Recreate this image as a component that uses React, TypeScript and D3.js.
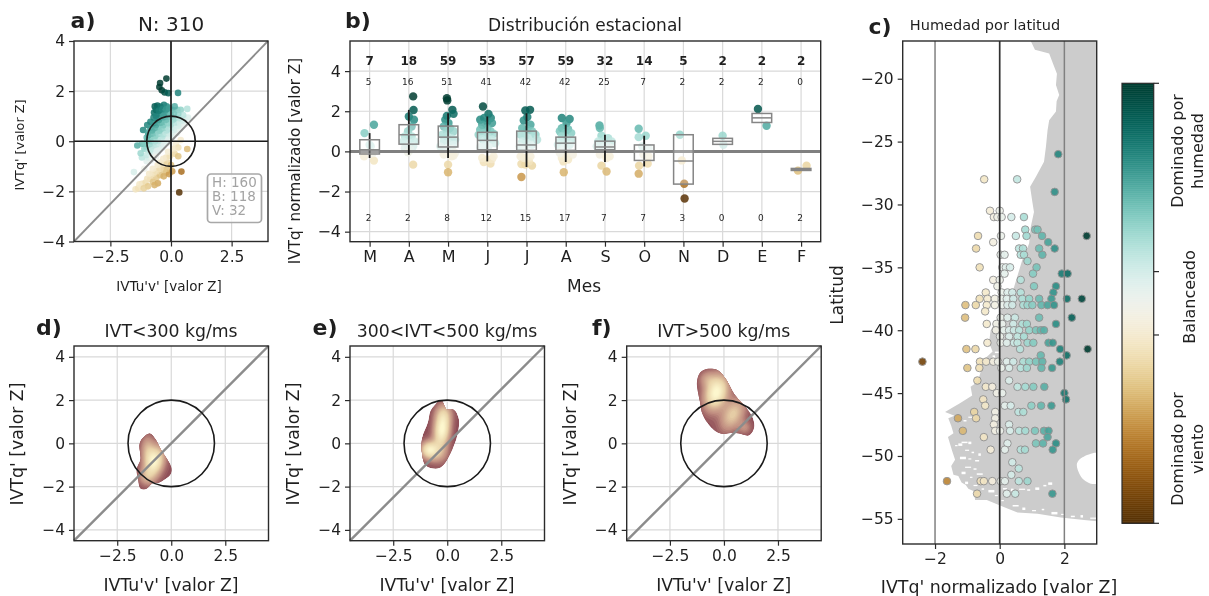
import React, { useEffect, useRef } from "react";
import * as d3 from "d3";

const WIDTH = 1209;
const HEIGHT = 596;

// a) IVTu'v' , IVTq'
const scatterA: number[][] = [
  [-1.53, -1.23], [-1.1, -1.1], [-1, -0.8], [-0.85, -0.78], [-0.95, -0.65], [-1.2, -0.65], [-1, -0.55], [-0.85, -0.52], [-0.7, -0.5], [-0.55, -0.45], [-0.78, -0.66], [-0.62, -0.62],
  [-1.25, -0.48], [-1.1, -0.3], [-0.95, -0.32], [-0.8, -0.3], [-0.65, -0.28], [-0.5, -0.3], [-0.35, -0.25], [-1.02, -0.22], [-0.72, -0.2], [-0.42, -0.18], [-0.88, -0.4], [-0.58, -0.38],
  [-1.39, -0.17], [-1.2, -0.1], [-1.05, -0.1], [-0.9, -0.12], [-0.75, -0.08], [-0.6, -0.12], [-0.45, -0.08], [-0.3, -0.1], [-0.15, -0.05], [-0.82, 0], [-0.52, 0.01], [-0.22, 0.02], [-0.98, 0.02], [-0.66, 0],
  [-1, 0.15], [-0.88, 0.1], [-0.72, 0.12], [-0.58, 0.08], [-0.42, 0.1], [-0.28, 0.12], [-0.12, 0.08], [0.05, 0.15], [-0.94, 0.24], [-0.65, 0.21], [-0.35, 0.2], [-0.05, 0.22],
  [-1.15, 0.45], [-0.95, 0.35], [-0.8, 0.3], [-0.65, 0.33], [-0.5, 0.3], [-0.35, 0.28], [-0.2, 0.32], [-0.05, 0.3], [0.1, 0.35], [0.25, 0.33], [-0.78, 0.43], [-0.48, 0.42], [-0.18, 0.43], [0.12, 0.45],
  [-0.98, 0.65], [-0.85, 0.55], [-0.7, 0.52], [-0.55, 0.56], [-0.4, 0.5], [-0.25, 0.54], [-0.1, 0.5], [0.05, 0.55], [0.22, 0.52], [0.38, 0.5], [-0.62, 0.65], [-0.32, 0.64], [-0.02, 0.66], [0.3, 0.62],
  [-0.85, 0.78], [-0.72, 0.72], [-0.58, 0.75], [-0.42, 0.74], [-0.28, 0.78], [-0.12, 0.72], [0.02, 0.8], [0.2, 0.75], [0.38, 0.72], [0.55, 0.7], [-0.5, 0.85], [-0.2, 0.86], [0.1, 0.87], [0.45, 0.82],
  [-0.72, 0.95], [-0.6, 0.92], [-0.45, 0.95], [-0.3, 0.96], [-0.15, 0.98], [0, 0.98], [0.18, 0.95], [0.35, 0.92], [0.55, 0.9], [0.7, 0.95],
  [-0.7, 1.15], [-0.55, 1.1], [-0.4, 1.12], [-0.25, 1.13], [-0.1, 1.15], [0.05, 1.25], [0.26, 1.25], [0.4, 1.25], [0.67, 1.29], [0.5, 1.05], [0.3, 1.1], [0.12, 1.1], [-0.62, 1.02], [-0.32, 1.05], [-0.02, 1.06],
  [-0.67, 1.39], [-0.56, 1.42], [-0.43, 1.38], [-0.29, 1.45], [-0.18, 1.39], [0.15, 1.39], [-0.62, 1.25], [-0.5, 1.22], [-0.35, 1.28], [-0.2, 1.27], [-0.08, 1.33],
  [-0.19, 2.5], [-0.45, 2.32], [-0.48, 2.16], [-0.38, 2.03], [-0.26, 1.95], [-0.11, 1.92], [0.29, 1.93],
  [-1.46, -1.92], [-1.35, -1.88], [-1.2, -1.7], [-1.05, -1.65], [-0.95, -1.8], [-0.85, -1.5], [-0.75, -1.62], [-0.6, -1.45], [-0.54, -1.68], [-0.45, -1.35], [-1.3, -1.72], [-1.12, -1.88], [-0.98, -1.5], [-0.68, -1.75],
  [-0.3, -1.4], [-0.2, -1.25], [-0.08, -1.31], [-0.15, -1.1], [-0.3, -1.15], [-0.45, -1.1], [-0.6, -1.2], [-0.75, -1.3], [-0.9, -1.3], [-0.75, -1.1], [-0.55, -0.95],
  [-0.3, -0.9], [-0.45, -0.85], [-0.15, -0.85], [-0.2, -0.65], [-0.05, -0.6], [0, -0.95], [0.05, -1.2], [-0.32, -0.7], [-0.12, -0.42],
  [0.43, -1.21], [0.34, -2.04], [0.67, -0.31], [0.4, 0.05], [0.2, -0.1], [0.3, -0.25], [0.15, -0.5], [0.3, -0.6], [0.1, -0.3],
];
const countsLegend = ["H: 160", "B: 118", "V: 32"];

// b) seasonal panel
const months = ["M", "A", "M", "J", "J", "A", "S", "O", "N", "D", "E", "F"];
const totals = [7, 18, 59, 53, 57, 59, 32, 14, 5, 2, 2, 2];
const humCounts = [5, 16, 51, 41, 42, 42, 25, 7, 2, 2, 2, 0];
const windCounts = [2, 2, 8, 12, 15, 17, 7, 7, 3, 0, 0, 2];
const boxQ1 = [-0.13, 0.36, 0.22, 0.08, 0.05, 0.05, 0.08, -0.45, -1.63, 0.35, 1.44, -0.95];
const boxMed = [0.08, 0.83, 0.71, 0.55, 0.32, 0.41, 0.22, 0, -0.48, 0.5, 1.67, -0.9];
const boxQ3 = [0.58, 1.33, 1.26, 0.95, 1.01, 0.71, 0.51, 0.32, 0.83, 0.65, 1.89, -0.85];
const whiskLow = [-0.33, -0.17, -0.33, -0.5, -0.78, -0.53, -0.53, -0.75, null, null, null, null];
const whiskHigh = [0.91, 2.07, 1.9, 1.74, 1.9, 1.33, 0.83, 0.78, null, null, null, null];
// month index + jitter, normalised IVTq'
const seasonalPts: number[][] = [
  [0.03, 0.25], [0, 0.33], [-0.14, -0.25], [-0.13, 0.91], [0.11, 1.33], [0.11, -0.46], [0.08, -0.08],
  [1.11, 2.74], [1.12, 2.06], [1, 1.74], [1.13, 1.58], [1.07, 1.24], [0.98, 1], [0.9, 0.75], [1.07, 0.75], [0.86, 0.5], [1.03, 0.42], [1.15, 0.5], [0.98, 0.25], [0.9, 0.16], [1.11, 0.25], [1.04, 0.08], [1.11, -0.66], [0.98, -0.05],
  [1.97, 2.65], [1.98, 2.54], [2.11, 2.07], [1.97, 1.77], [2.14, 1.87], [1.93, 1.58], [2.01, 1.41], [1.89, 1.24], [2.05, 1.16], [1.97, 1], [2.14, 1], [1.85, 0.83], [1.96, 0.75], [2.09, 0.66], [2.18, 0.58], [1.89, 0.5], [2.01, 0.41], [2.14, 0.33], [1.8, 0.25], [1.97, 0.16], [2.09, 0.11], [2.18, -0.08], [2.09, -0.25], [2, -0.66], [2, -1.04], [2.14, -0.21], [1.89, -0.16],
  [2.89, 2.24], [3.03, 1.87], [3.09, 1.66], [2.92, 1.66], [2.82, 1.58], [3, 1.49], [2.87, 1.33], [3.12, 1.41], [3, 1.16], [2.82, 1.08], [3.08, 1], [2.92, 0.91], [3.16, 0.88], [2.78, 0.83], [3, 0.75], [2.87, 0.61], [3.12, 0.58], [3.2, 0.41], [2.92, 0.33], [3.03, 0.25], [2.82, 0.21], [2.91, -0.53], [3.08, -0.61], [3.12, -0.38], [3, -0.41], [2.87, -0.33], [3.16, -0.25],
  [4.09, 2.07], [3.97, 2.04], [4.02, 1.71], [3.93, 1.54], [4.1, 1.33], [3.89, 1.16], [4.02, 1.08], [4.14, 1], [3.85, 0.83], [3.97, 0.75], [4.1, 0.66], [4.23, 0.83], [3.89, 0.5], [4.02, 0.41], [4.14, 0.33], [4.27, 0.58], [3.83, 0.25], [3.97, 0.16], [3.87, -0.63], [3.97, -0.66], [4.14, -0.71], [4.06, -0.5], [3.94, -0.33], [4.1, -0.25], [3.85, -0.25], [3.87, -1.28],
  [4.9, 1.66], [5.1, 1.61], [5.02, 1.41], [4.9, 1.16], [5.06, 1.11], [4.85, 1], [4.98, 0.91], [5.14, 0.91], [4.9, 0.75], [5.02, 0.66], [5.14, 0.58], [4.85, 0.5], [4.98, 0.41], [5.1, 0.33], [4.8, 0.33], [4.94, 0.16], [4.95, -1.04], [4.94, -0.5], [5.06, -0.41], [4.9, -0.33], [5.02, -0.25], [5.18, -0.16], [4.85, -0.08],
  [5.86, 1.29], [5.87, 1.16], [5.91, 0.78], [6.08, 0.66], [6, 0.58], [5.83, 0.5], [6.17, 0.5], [5.91, 0.33], [6.08, 0.25], [5.79, 0.25], [6.17, 0.16], [5.91, -0.71], [6.04, -1], [5.87, -0.16], [6.04, -0.33], [6.12, -0.25],
  [6.86, 1.13], [7.04, 0.78], [6.86, 0.71], [6.95, 0.25], [7.11, 0.16], [7.11, -0.25], [7.09, -0.61], [6.87, -0.71], [6.86, -1.11], [6.98, -0.16],
  [7.91, 0.83], [7.96, -0.45], [8.02, -1.61], [8.03, -2.35],
  [9, 0.78], [9.02, 0.33],
  [9.9, 2.11], [10.12, 1.28],
  [11.14, -0.71], [10.92, -0.96],
];

// c) latitude rows, each with the values on it
const latRows: [number, number[]][] = [
  [-26, [1.81]], [-28, [-0.48, 0.54]], [-29, [1.7]], [-30.5, [-0.3, 0]], [-31, [-0.18, -0.07, 0.06, 0.36, 0.75]],
  [-32, [0.79, 1.1, 1.17]], [-32.5, [-0.67, 0.04, 0.5, 0.83, 1.31, 2.69]], [-33, [-0.2, 1.5]], [-33.5, [-0.73, 0.6, 0.72, 1.22, 1.7]],
  [-34, [0.03, 0.15, 0.65, 0.75, 1.32]], [-34.5, [0.86]], [-35, [-0.62, 0.08, 0.19, 0.32, 1.14]], [-35.5, [0.15, 1.03, 1.92, 2.1]],
  [-36, [-0.2, 0, 0.65]], [-36.5, [-0.07, 1.06, 1.74]], [-37, [-0.43, 0.06, 0.24, 0.39, 0.65, 1.66]],
  [-37.5, [-0.62, -0.38, -0.15, 0.06, 0.22, 0.42, 0.7, 0.91, 1.22, 1.6, 2.08, 2.54]],
  [-38, [-1.06, -0.74, -0.4, -0.15, 0.08, 0.24, 0.39, 0.73, 0.86, 1.01, 1.29, 1.48, 1.68]],
  [-38.5, [-0.45]], [-39, [-1.07, 0.03, 0.24, 0.47, 1.22, 2.23]], [-39.5, [-0.4, -0.1, 0.08, 0.42, 0.7, 0.84, 1.74]],
  [-40, [-0.12, 0.13, 0.29, 0.44, 0.6, 0.91, 1.12, 1.27, 1.37]], [-40.5, [0.01, 0.29, 0.55, 0.75]],
  [-41, [-0.38, 0.03, 0.22, 0.44, 0.55, 0.86, 1.04, 1.51, 1.64]], [-41.5, [-1.03, -0.75, 0.63, 1.87, 2.72]], [-42, [1.27, 2.07]],
  [-42.5, [-2.39, -0.61, -0.42, -0.2, -0.05, 0.22, 0.42, 0.73, 0.91, 1.12, 1.32, 1.86]],
  [-43, [-1, -0.63, 0.05, 0.29, 0.65, 0.84, 1.29, 1.62]], [-44, [-0.69, 0.29]], [-44.5, [-0.43, -0.23, 0.55, 0.79, 1.04, 1.38]],
  [-45, [-0.09, 0.08, 2]], [-45.5, [-0.51, 2.05]], [-46, [-0.45, 0.16, 0.34, 0.98, 1.28, 1.6]], [-46.5, [-0.79, -0.14, 0.58, 0.73]],
  [-47, [-1.29, -0.73, -0.14]], [-47.5, [-0.18, 0.29]], [-48, [-1.14, -0.14, 0.01, 0.32, 0.6, 0.79, 1.09, 1.37, 1.51]],
  [-48.5, [-0.49, 1.48]], [-49, [0.24, 1.12, 1.34, 1.74]], [-49.5, [-0.28, 0.16, 0.65, 0.78, 1.64]],
  [-50.5, [0.39]], [-51, [0.59]], [-51.5, [0.36]], [-52, [-1.63, -0.59, -0.49, -0.23, 0.03, 0.16, 0.59, 0.86]], [-53, [-0.7, 0.22, 0.48, 1.63]],
];
// land outline on the map as value, latitude
const landOutline: number[][] = [
  [0.96, -17], [1.09, -17.7], [1.53, -18], [1.65, -18.8], [1.77, -19.6], [1.74, -20.5], [1.84, -21.3], [1.76, -21.8], [1.74, -22.6], [1.53, -23.3],
  [1.48, -24.1], [1.43, -25.4], [1.37, -26.6], [1.12, -27.8], [0.94, -28.6], [1.01, -29.8], [1.06, -30.6], [0.96, -31.8], [0.91, -33.1], [0.7, -34.4],
  [0.44, -36.6], [0.25, -37.6], [0.05, -38.3], [-0.1, -39.2], [-0.28, -40], [-0.33, -41], [-0.22, -41.7], [-0.48, -42.3], [-0.6, -43.4], [-0.68, -44.1],
  [-0.9, -44.5], [-0.85, -45.2], [-1.23, -45.8], [-1.43, -46.1], [-1.69, -46.5], [-1.4, -46.8], [-1.59, -47], [-1.5, -47.6], [-1.43, -48.2], [-1.6, -48.5],
  [-1.54, -49], [-1.47, -49.6], [-1.38, -50.3], [-1.5, -50.8], [-1.43, -51.5], [-1.28, -51.6], [-1.18, -52.1], [-1.05, -52.3], [-0.97, -52.6], [-0.8, -52.8],
  [-0.76, -53.5], [-0.4, -53.5], [0.03, -53.96], [0.55, -54.5], [1.17, -54.6], [1.89, -54.9], [2.61, -55.1], [3.03, -55.2], [3.03, -17],
];
const atlanticBay: number[][] = [[3.08, -49.8], [2.56, -50.1], [2.39, -50.6], [2.46, -51.4], [2.6, -51.9], [2.82, -52.2], [3.08, -52.1]];
// white flecks: fjords and the strait in the far south
const mapFlecks: number[][] = [
  [-0.15, -41.7], [-0.22, -42], [-0.97, -46.87], [-1.12, -47.14], [-1.28, -49], [-1.38, -49.13], [-1.18, -48.86], [-0.97, -48.86], [-1.07, -49.5], [-0.87, -49.66],
  [-1.23, -50.06], [-0.97, -50.19], [-0.76, -50.32], [-0.66, -49.79], [-1.07, -50.85], [-0.81, -50.98], [-1.18, -51.25], [-0.92, -51.65], [-0.71, -51.38], [-1.07, -52.04],
  [-0.81, -52.3], [-0.56, -52.57], [-0.35, -52.7], [-0.15, -53.1], [0.1, -52.55], [0.35, -52.6], [0.6, -52.6], [0.85, -52.65], [1.1, -52.5],
  [0.05, -53.5], [0.4, -53.9], [0.7, -54.1], [1, -54.3], [1.3, -54.2], [1.6, -54.45], [1.9, -54.6], [2.2, -54.75], [2.5, -54.7], [2.8, -54.9], [1.35, -52.3], [1.5, -52.1],
];

// d, e, f) density panels: outline, then bumps [x, y, sx, sy, angle, weight]
const densityPanels = [
  {
    title: "IVT<300 kg/ms", tag: "d)", left: 74,
    outline: [[-0.99, 0.46], [-0.73, 0.19], [-0.49, -0.28], [-0.19, -0.74], [0.02, -1.13], [-0.03, -1.44], [-0.57, -1.82], [-0.88, -1.85], [-1.14, -2.1], [-1.42, -2.1], [-1.53, -1.67], [-1.6, -1.2], [-1.42, -0.74], [-1.47, -0.05], [-1.34, 0.22]],
    bumps: [[-0.8, -0.82, 0.3, 0.48, 0.25, 1], [-1.12, -0.2, 0.22, 0.42, 0, 0.35], [-1.15, -1.55, 0.27, 0.27, 0, 0.3]],
  },
  {
    title: "300<IVT<500 kg/ms", tag: "e)", left: 350,
    outline: [[-0.28, 2], [-0.03, 1.57], [0.31, 1.54], [0.54, 1.11], [0.46, 0.34], [0.23, -0.28], [-0.23, -1.05], [-0.54, -1.17], [-1, -1.02], [-1.16, -0.51], [-1.16, 0.26], [-0.9, 0.96], [-0.77, 1.5], [-0.54, 1.8]],
    bumps: [[-0.26, 0.65, 0.25, 0.55, 0.1, 1], [-0.86, -0.28, 0.27, 0.27, 0, 0.8], [-0.45, -0.45, 0.33, 0.33, 0, 0.3], [-0.2, 1.4, 0.28, 0.33, 0, 0.3]],
  },
  {
    title: "IVT>500 kg/ms", tag: "f)", left: 626.7,
    outline: [[-0.83, 3.43], [-0.29, 3.38], [0.09, 2.96], [0.48, 2.27], [1.02, 1.65], [1.33, 1.19], [1.4, 0.73], [1.17, 0.37], [0.71, 0.45], [0.4, 0.49], [-0.14, 0.45], [-0.6, 0.73], [-0.99, 1.34], [-1.1, 1.88], [-1.25, 2.81], [-1.1, 3.27]],
    bumps: [[-0.37, 2.36, 0.35, 0.55, 0.3, 1], [0.4, 1.35, 0.33, 0.55, 0.5, 0.55], [-0.8, 3, 0.27, 0.27, 0, 0.25], [0.95, 0.75, 0.22, 0.22, 0, 0.22]],
  },
];

const GRID = "#d9d9d9";
const SPINE = "#2b2b2b";
const TXT = "#1f1f1f";
const FONT = "'DejaVu Sans', sans-serif";

const brbgA = d3.scaleSequential(d3.interpolateBrBG).domain([-2.4, 2.4]).clamp(true);
const brbgC = d3.scaleSequential(d3.interpolateBrBG).domain([-2.7, 2.7]).clamp(true);
const densityColor = d3.scaleLinear<string>().domain([0, 0.2, 0.55, 1]).range(["#8f4f58", "#c08d80", "#e9d2a8", "#fffbd2"]);

type Sel = d3.Selection<any, any, any, any>;

function frame(g: Sel, x: any, y: any, xTicks: number[], yTicks: number[], xFmt: (d: any) => string, yFmt: (d: any) => string, size: number) {
  const [x0, x1] = x.range();
  const [y0, y1] = y.range();
  const grid = g.append("g").attr("stroke", GRID).attr("stroke-width", 1.2);
  xTicks.forEach((t) => grid.append("line").attr("x1", x(t)).attr("x2", x(t)).attr("y1", y0).attr("y2", y1));
  yTicks.forEach((t) => grid.append("line").attr("x1", x0).attr("x2", x1).attr("y1", y(t)).attr("y2", y(t)));
  return () => {
    const ax = g.append("g").attr("transform", `translate(0,${y0})`).call(d3.axisBottom(x).tickValues(xTicks).tickFormat(xFmt).tickSize(5).tickPadding(4));
    const ay = g.append("g").attr("transform", `translate(${x0},0)`).call(d3.axisLeft(y).tickValues(yTicks).tickFormat(yFmt).tickSize(5).tickPadding(4));
    [ax, ay].forEach((a) => {
      a.select(".domain").remove();
      a.selectAll("line").attr("stroke", SPINE).attr("stroke-width", 1.2);
      a.selectAll("text").attr("font-family", FONT).attr("font-size", size).attr("fill", TXT);
    });
    g.append("rect").attr("x", x0).attr("y", y1).attr("width", x1 - x0).attr("height", y0 - y1).attr("fill", "none").attr("stroke", SPINE).attr("stroke-width", 1.4);
  };
}

function label(svg: Sel, txt: string, x: number, y: number, size: number, opts: { rot?: boolean; bold?: boolean; fill?: string; anchor?: string } = {}) {
  svg.append("text").text(txt).attr("font-family", FONT).attr("font-size", size)
    .attr("fill", opts.fill ?? TXT).attr("text-anchor", opts.anchor ?? "middle")
    .attr("font-weight", opts.bold ? "bold" : "normal")
    .attr("transform", opts.rot ? `translate(${x},${y}) rotate(-90)` : `translate(${x},${y})`);
}

export default function App() {
  const ref = useRef<SVGSVGElement>(null);

  useEffect(() => {
    const svg = d3.select(ref.current);
    svg.selectAll("*").remove();
    const f1 = d3.format(".1f");

    // a)
    const xa = d3.scaleLinear().domain([-4, 4]).range([74, 268]);
    const ya = d3.scaleLinear().domain([-4, 4]).range([241.5, 41]);
    const ga = svg.append("g");
    const closeA = frame(ga, xa, ya, [-2.5, 0, 2.5], [-4, -2, 0, 2, 4], (d) => (d === 0 ? "0.0" : f1(d)), d3.format("d"), 15.5);
    ga.selectAll(".pt").data(scatterA).enter().append("circle")
      .attr("cx", (d) => xa(d[0])).attr("cy", (d) => ya(d[1])).attr("r", 3.3)
      .attr("fill", (d) => brbgA(d[1] - d[0])).attr("opacity", 0.85);
    ga.append("line").attr("x1", xa(-4)).attr("y1", ya(-4)).attr("x2", xa(4)).attr("y2", ya(4)).attr("stroke", "#8c8c8c").attr("stroke-width", 1.8);
    ga.append("line").attr("x1", xa(0)).attr("x2", xa(0)).attr("y1", ya(-4)).attr("y2", ya(4)).attr("stroke", "#1a1a1a").attr("stroke-width", 1.7);
    ga.append("line").attr("x1", xa(-4)).attr("x2", xa(4)).attr("y1", ya(0)).attr("y2", ya(0)).attr("stroke", "#1a1a1a").attr("stroke-width", 1.7);
    ga.append("ellipse").attr("cx", xa(0)).attr("cy", ya(0)).attr("rx", xa(1) - xa(0)).attr("ry", ya(0) - ya(1)).attr("fill", "none").attr("stroke", "#1a1a1a").attr("stroke-width", 1.7);
    closeA();
    ga.append("rect").attr("x", 207.5).attr("y", 174).attr("width", 54).attr("height", 48.5).attr("rx", 3.5).attr("fill", "white").attr("fill-opacity", 0.8).attr("stroke", "#a8a8a8").attr("stroke-width", 1.7);
    countsLegend.forEach((t, i) => label(ga, t, 212, 187 + i * 14.2, 13.5, { anchor: "start", fill: "#a3a3a3" }));
    label(svg, "a)", 83, 28, 22, { bold: true });
    label(svg, "N: 310", 171, 31, 20);
    label(svg, "IVTq' [valor Z]", 24, 145, 12.8, { rot: true });
    label(svg, "IVTu'v' [valor Z]", 169, 291, 13.5);

    // b)
    const xb = d3.scaleLinear().domain([-0.5, 11.5]).range([350, 820.7]);
    const yb = d3.scaleLinear().domain([-4.5, 5.5]).range([241.7, 41]);
    const gb = svg.append("g");
    const monthIdx = months.map((_, i) => i);
    const closeB = frame(gb, xb, yb, monthIdx, [-4, -2, 0, 2, 4], (i) => months[i], d3.format("d"), 16);
    gb.selectAll(".pt").data(seasonalPts).enter().append("circle")
      .attr("cx", (d) => xb(d[0])).attr("cy", (d) => yb(d[1])).attr("r", 4.2)
      .attr("fill", (d) => brbgA(d[1])).attr("opacity", 0.85);
    gb.append("line").attr("x1", xb(-0.5)).attr("x2", xb(11.5)).attr("y1", yb(0)).attr("y2", yb(0)).attr("stroke", "#808080").attr("stroke-width", 3);
    monthIdx.forEach((i) => {
      if (whiskLow[i] !== null) {
        gb.append("line").attr("x1", xb(i)).attr("x2", xb(i)).attr("y1", yb(whiskLow[i] as number)).attr("y2", yb(whiskHigh[i] as number)).attr("stroke", "#1a1a1a").attr("stroke-width", 1.8);
      }
      const bw = xb(0.25) - xb(0);
      gb.append("rect").attr("x", xb(i) - bw).attr("width", 2 * bw).attr("y", yb(boxQ3[i])).attr("height", yb(boxQ1[i]) - yb(boxQ3[i]))
        .attr("fill", "white").attr("fill-opacity", 0.25).attr("stroke", "#858585").attr("stroke-width", 1.5);
      gb.append("line").attr("x1", xb(i) - bw).attr("x2", xb(i) + bw).attr("y1", yb(boxMed[i])).attr("y2", yb(boxMed[i])).attr("stroke", "#858585").attr("stroke-width", 1.5);
      label(gb, String(totals[i]), xb(i), 65, 12, { bold: true });
      label(gb, String(humCounts[i]), xb(i) - 1, 85, 9);
      label(gb, String(windCounts[i]), xb(i) - 1, 221, 9);
    });
    closeB();
    label(svg, "b)", 358, 28, 22, { bold: true });
    label(svg, "Distribución estacional", 585, 31, 17);
    label(svg, "IVTq' normalizado [valor Z]", 300, 161, 15.2, { rot: true });
    label(svg, "Mes", 584, 292, 17);

    // c)
    const xc = d3.scaleLinear().domain([-3, 3]).range([902.7, 1096.7]);
    const yc = d3.scaleLinear().domain([-57, -17]).range([544, 41]);
    const gc = svg.append("g");
    svg.append("defs").append("clipPath").attr("id", "clip-c").append("rect").attr("x", 902.7).attr("y", 41).attr("width", 194).attr("height", 503);
    const mapG = gc.append("g").attr("clip-path", "url(#clip-c)");
    const mapLine = d3.line<number[]>().x((d) => xc(d[0])).y((d) => yc(d[1]));
    mapG.append("path").attr("d", mapLine(landOutline) + "Z").attr("fill", "#cccccc");
    mapG.append("path").attr("d", d3.line<number[]>().x((d) => xc(d[0])).y((d) => yc(d[1])).curve(d3.curveCatmullRomClosed)(atlanticBay) as string).attr("fill", "white");
    mapG.selectAll(".fleck").data(mapFlecks).enter().append("rect")
      .attr("x", (d) => xc(d[0])).attr("y", (d) => yc(d[1])).attr("width", (_, i) => [4, 2.5, 6, 3][i % 4]).attr("height", (_, i) => [1.5, 2.5, 1.2][i % 3]).attr("fill", "white");
    const rowPts = latRows.flatMap(([lat, vals]) => vals.map((v) => [v, lat]));
    mapG.selectAll(".pt").data(rowPts).enter().append("circle")
      .attr("cx", (d) => xc(d[0])).attr("cy", (d) => yc(d[1])).attr("r", 3.8)
      .attr("fill", (d) => brbgC(d[0])).attr("stroke", "#8f8f8f").attr("stroke-width", 1).attr("opacity", 0.9);
    [-2, 2].forEach((v) => gc.append("line").attr("x1", xc(v)).attr("x2", xc(v)).attr("y1", 41).attr("y2", 544).attr("stroke", "#808080").attr("stroke-width", 1.5));
    gc.append("line").attr("x1", xc(0)).attr("x2", xc(0)).attr("y1", 41).attr("y2", 544).attr("stroke", "#303030").attr("stroke-width", 1.7);
    const axcx = gc.append("g").attr("transform", "translate(0,544)").call(d3.axisBottom(xc).tickValues([-2, 0, 2]).tickFormat(d3.format("d") as any).tickSize(5).tickPadding(4));
    const axcy = gc.append("g").attr("transform", "translate(902.7,0)").call(d3.axisLeft(yc).tickValues([-20, -25, -30, -35, -40, -45, -50, -55]).tickFormat(d3.format("d") as any).tickSize(5).tickPadding(4));
    [axcx, axcy].forEach((a) => {
      a.select(".domain").remove();
      a.selectAll("line").attr("stroke", SPINE).attr("stroke-width", 1.2);
      a.selectAll("text").attr("font-family", FONT).attr("font-size", 15.5).attr("fill", TXT);
    });
    gc.append("rect").attr("x", 902.7).attr("y", 41).attr("width", 194).attr("height", 503).attr("fill", "none").attr("stroke", SPINE).attr("stroke-width", 1.4);
    label(svg, "c)", 880, 34, 22, { bold: true });
    label(svg, "Humedad por latitud", 985, 30, 14.5);
    label(svg, "Latitud", 843, 295, 17, { rot: true });
    label(svg, "IVTq' normalizado [valor Z]", 999, 593, 17.4);

    // colour bar
    const yCb = d3.scaleLinear().domain([0, 1]).range([523.3, 83.3]);
    const gCb = svg.append("g");
    d3.range(0, 1, 1 / 220).forEach((t) => {
      gCb.append("rect").attr("x", 1122).attr("width", 31.7).attr("y", yCb(t + 1 / 220)).attr("height", yCb(t) - yCb(t + 1 / 220) + 0.5).attr("fill", d3.interpolateBrBG(t));
    });
    gCb.append("rect").attr("x", 1122).attr("y", 83.3).attr("width", 31.7).attr("height", 440).attr("fill", "none").attr("stroke", SPINE).attr("stroke-width", 1.2);
    [0, 0.428, 0.572, 1].forEach((t) => gCb.append("line").attr("x1", 1153.7).attr("x2", 1159).attr("y1", yCb(t)).attr("y2", yCb(t)).attr("stroke", SPINE).attr("stroke-width", 1.2));
    label(svg, "Dominado por", 1183, 151, 16, { rot: true });
    label(svg, "humedad", 1203, 151, 16, { rot: true });
    label(svg, "Balanceado", 1195, 297, 16, { rot: true });
    label(svg, "Dominado por", 1183, 449, 16, { rot: true });
    label(svg, "viento", 1203, 449, 16, { rot: true });

    // d, e, f)
    const n = 270;
    densityPanels.forEach((p, pi) => {
      const xd = d3.scaleLinear().domain([-4.5, 4.5]).range([p.left, p.left + 194.5]);
      const yd = d3.scaleLinear().domain([-4.5, 4.5]).range([540.7, 346]);
      const g = svg.append("g");
      const close = frame(g, xd, yd, [-2.5, 0, 2.5], [-4, -2, 0, 2, 4], (d) => (d === 0 ? "0.0" : f1(d)), d3.format("d"), 15.5);
      const line = d3.line<number[]>().x((d) => xd(d[0])).y((d) => yd(d[1])).curve(d3.curveCatmullRomClosed);
      const clipId = `blob-${pi}`;
      svg.select("defs").append("clipPath").attr("id", clipId).append("path").attr("d", line(p.outline) as string);
      const blob = g.append("g").attr("clip-path", `url(#${clipId})`);
      blob.append("path").attr("d", line(p.outline) as string).attr("fill", densityColor(0));
      const cell = d3.scaleLinear().domain([0, n]).range([-4.5, 4.5]);
      const values = new Array(n * n).fill(0);
      for (let j = 0; j < n; j++) {
        for (let i = 0; i < n; i++) {
          const px = cell(i);
          const py = cell(n - j);
          values[j * n + i] = d3.sum(p.bumps, (b) => {
            const dx = px - b[0];
            const dy = py - b[1];
            const c = Math.cos(b[4]);
            const s = Math.sin(b[4]);
            const u = (dx * c - dy * s) / b[2];
            const v = (dx * s + dy * c) / b[3];
            return b[5] * Math.exp(-0.5 * (u * u + v * v));
          });
        }
      }
      const maxV = d3.max(values) as number;
      const levels = d3.range(0.04, 1, 0.04).map((t) => t * maxV);
      const contourPath = d3.geoPath(d3.geoTransform({
        point(this: any, cx: number, cy: number) {
          this.stream.point(xd(cell(cx)), yd(cell(n - cy)));
        },
      }));
      blob.selectAll(".lvl").data(d3.contours().size([n, n]).thresholds(levels)(values)).enter().append("path")
        .attr("d", (c) => contourPath(c as any) as string).attr("fill", (c) => densityColor(c.value / maxV));
      g.append("line").attr("x1", xd(-4.5)).attr("y1", yd(-4.5)).attr("x2", xd(4.5)).attr("y2", yd(4.5)).attr("stroke", "#8c8c8c").attr("stroke-width", 2.4);
      g.append("ellipse").attr("cx", xd(0)).attr("cy", yd(0)).attr("rx", xd(2) - xd(0)).attr("ry", yd(0) - yd(2)).attr("fill", "none").attr("stroke", "#1a1a1a").attr("stroke-width", 1.6);
      close();
      label(svg, p.tag, p.left - 25, 335, 22, { bold: true });
      label(svg, p.title, p.left + 97, 337, 17.3);
      label(svg, "IVTq' [valor Z]", p.left - 51, 444, 17.3, { rot: true });
      label(svg, "IVTu'v' [valor Z]", p.left + 97, 591, 17.3);
    });
  }, []);

  return <svg ref={ref} width={WIDTH} height={HEIGHT} style={{ position: "absolute", left: 0, top: 0, background: "white", filter: "blur(0.4px)" }} />;
}
